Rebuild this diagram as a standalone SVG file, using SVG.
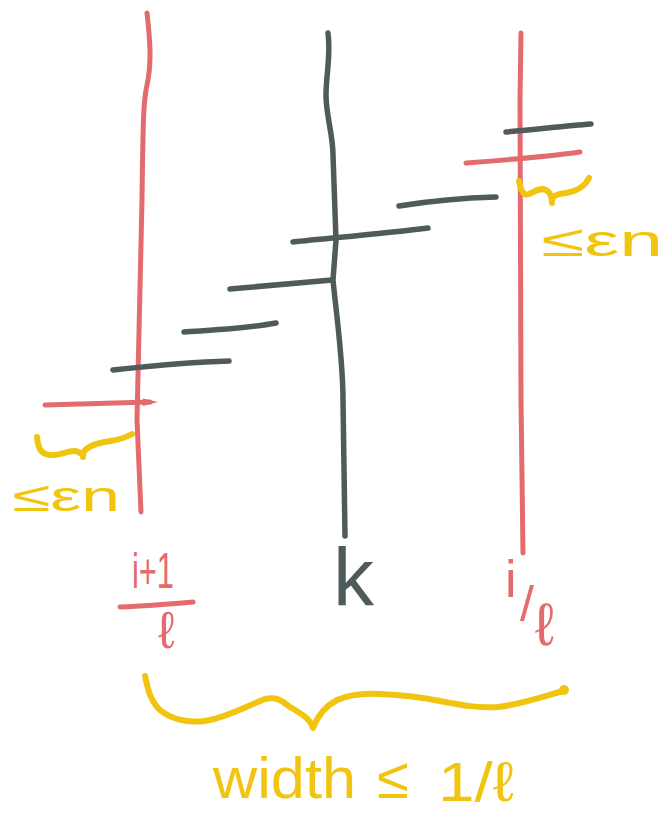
<svg xmlns="http://www.w3.org/2000/svg" width="665" height="813" viewBox="0 0 665 813">
  <style>
    .red { fill: none; stroke: #E36B6E; stroke-width: 5; stroke-linecap: round; stroke-linejoin: round; }
    .dark { fill: none; stroke: #4F5B5B; stroke-width: 5.5; stroke-linecap: round; stroke-linejoin: round; }
    .yel { fill: none; stroke: #F1C40F; stroke-width: 6; stroke-linecap: round; stroke-linejoin: round; }
    .tred { fill: #E36B6E; font-family: "Liberation Sans", "DejaVu Sans", sans-serif; }
    .tdark { fill: #4F5B5B; font-family: "Liberation Sans", "DejaVu Sans", sans-serif; }
    .tyel { fill: #F1C40F; font-family: "Liberation Sans", "DejaVu Sans", sans-serif; }
  </style>
  <rect width="665" height="813" fill="#ffffff"/>

  <g id="pillar-left">
    <path class="red" d="M147,13 C150,40 152,62 147,85 C143,102 143,130 142,200 L137,420 L141,512"/>
  </g>
  <g id="pillar-k">
    <path class="dark" d="M328,33 C331,55 326,75 326,95 C326,115 333,135 333,155 L336,240 L333,280 C337,320 343,360 343,400 L345,536"/>
  </g>
  <g id="pillar-right">
    <path class="red" d="M521,33 L520,100 L521,400 L523,553"/>
  </g>

  <g id="connectors">
    <path class="dark" d="M506,132 C540,129 565,126 591,124"/>
    <path class="red" d="M466,163 C505,160 545,157 580,152"/>
    <path class="dark" d="M399,206 C430,201 460,198 496,197"/>
    <path class="dark" d="M293,242 C330,238 380,234 428,228"/>
    <path class="dark" d="M230,289 C265,286 300,283 332,280"/>
    <path class="dark" d="M184,332 C215,330 250,328 276,323"/>
    <path class="dark" d="M113,370 C150,366 190,362 229,361"/>
    <path class="red" d="M45,405 C80,404 115,403 150,402"/>
    <path d="M143,398.5 L158,402 L143,406 Z" fill="#E36B6E"/>
  </g>

  <g id="gap-right">
    <path class="yel" d="M519,181 C521,192 524,196 529,194 C534,192 540,187 546,190 C550,192 552,198 552,203 C551,196 556,194 566,193 C578,191 585,186 589,178"/>
    <text class="tyel" x="541" y="256" font-size="44" textLength="122" lengthAdjust="spacingAndGlyphs">≤εn</text>
  </g>
  <g id="gap-left">
    <path class="yel" d="M37,437 C38,447 40,454 50,455 C60,456 68,450 75,451 C81,452 83,456 83,457 C82,450 88,446 100,443 C112,440 120,441 132,434"/>
    <text class="tyel" x="12" y="511" font-size="42" textLength="108" lengthAdjust="spacingAndGlyphs">≤εn</text>
  </g>

  <g id="label-left">
    <text class="tred" x="132" y="588" font-size="50" textLength="42" lengthAdjust="spacingAndGlyphs">i+1</text>
    <path class="red" d="M120,607 C145,606 170,604 193,602"/>
    <text class="tred" x="158" y="648" font-size="52">ℓ</text>
  </g>
  <g id="label-k">
    <text class="tdark" x="333" y="605" font-size="82">k</text>
  </g>
  <g id="label-right">
    <text class="tred" x="505" y="597" font-size="52">i<tspan x="520" dy="24" font-size="50">/</tspan><tspan x="535" dy="24" font-size="60">ℓ</tspan></text>
  </g>

  <g id="brace">
    <path class="yel" d="M145,676 C148,690 150,700 160,710 C172,720 190,723 205,721 C225,718 245,707 265,699 C278,696 283,702 290,707 C300,713 310,718 313,728 C316,720 322,708 337,700 C350,694 365,693 380,694 C400,695 420,697 440,701 C460,705 475,708 497,707 C520,705 545,696 563,691"/>
    <circle cx="564" cy="690" r="5" fill="#F1C40F"/>
  </g>
  <g id="width-label">
    <text class="tyel" x="213" y="798" font-size="58" textLength="143" lengthAdjust="spacingAndGlyphs">width</text>
    <text class="tyel" x="377" y="798" font-size="58">≤</text>
    <text class="tyel" x="438" y="801" font-size="56" textLength="76" lengthAdjust="spacingAndGlyphs">1/ℓ</text>
  </g>
</svg>
